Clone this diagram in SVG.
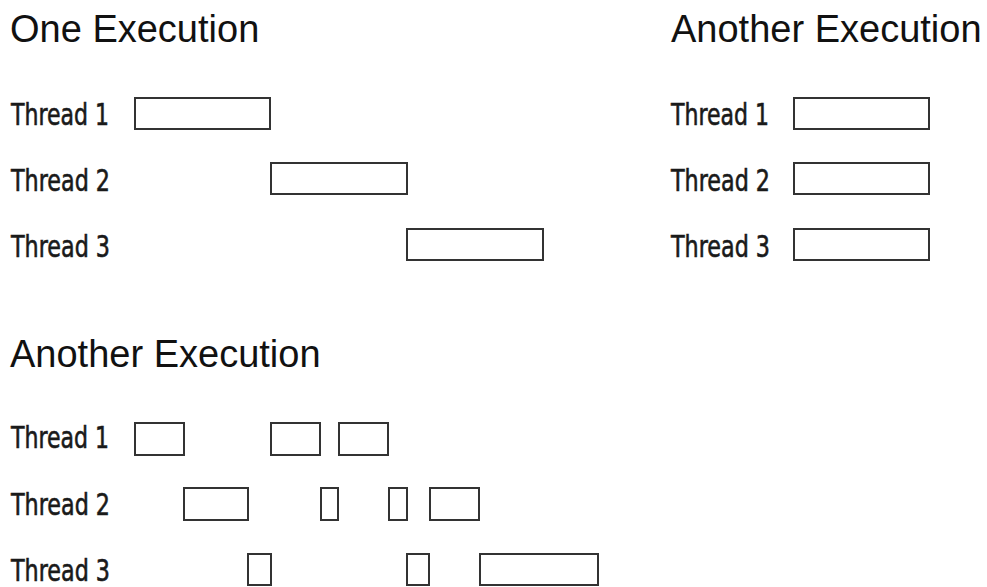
<svg xmlns="http://www.w3.org/2000/svg" width="987" height="587" viewBox="0 0 987 587">
<style>
  .title { font-family: "Liberation Sans", Arial, sans-serif; font-size: 38px; fill: #111; }
  .lbl { font-family: "Liberation Sans Narrow", "DejaVu Sans Condensed", "Liberation Sans", sans-serif; font-size: 30px; fill: #1a1a1a; stroke: #1a1a1a; stroke-width: 0.6; }
  .bar { fill: #fff; stroke: #333; stroke-width: 2; }
</style>
<rect width="987" height="587" fill="#fff"/>

<g id="one-execution">
  <text class="title" x="10" y="42">One Execution</text>
  <g id="oe-t1">
    <text class="lbl" x="11" y="125" textLength="98" lengthAdjust="spacingAndGlyphs">Thread 1</text>
    <rect class="bar" x="135" y="98" width="135" height="31"/>
  </g>
  <g id="oe-t2">
    <text class="lbl" x="11" y="191" textLength="99" lengthAdjust="spacingAndGlyphs">Thread 2</text>
    <rect class="bar" x="271" y="163" width="136" height="31"/>
  </g>
  <g id="oe-t3">
    <text class="lbl" x="11" y="257" textLength="99" lengthAdjust="spacingAndGlyphs">Thread 3</text>
    <rect class="bar" x="407" y="229" width="136" height="31"/>
  </g>
</g>

<g id="another-execution-1">
  <text class="title" x="671" y="42">Another Execution</text>
  <g id="ae1-t1">
    <text class="lbl" x="671" y="125" textLength="98" lengthAdjust="spacingAndGlyphs">Thread 1</text>
    <rect class="bar" x="794" y="98" width="135" height="31"/>
  </g>
  <g id="ae1-t2">
    <text class="lbl" x="671" y="191" textLength="99" lengthAdjust="spacingAndGlyphs">Thread 2</text>
    <rect class="bar" x="794" y="163" width="135" height="31"/>
  </g>
  <g id="ae1-t3">
    <text class="lbl" x="671" y="257" textLength="99" lengthAdjust="spacingAndGlyphs">Thread 3</text>
    <rect class="bar" x="794" y="229" width="135" height="31"/>
  </g>
</g>

<g id="another-execution-2">
  <text class="title" x="10" y="367">Another Execution</text>
  <g id="ae2-t1">
    <text class="lbl" x="11" y="448" textLength="98" lengthAdjust="spacingAndGlyphs">Thread 1</text>
    <rect class="bar" x="135" y="423" width="49" height="32"/>
    <rect class="bar" x="271" y="423" width="49" height="32"/>
    <rect class="bar" x="339" y="423" width="49" height="32"/>
  </g>
  <g id="ae2-t2">
    <text class="lbl" x="11" y="515" textLength="99" lengthAdjust="spacingAndGlyphs">Thread 2</text>
    <rect class="bar" x="184" y="488" width="64" height="32"/>
    <rect class="bar" x="321" y="488" width="17" height="32"/>
    <rect class="bar" x="389" y="488" width="18" height="32"/>
    <rect class="bar" x="430" y="488" width="49" height="32"/>
  </g>
  <g id="ae2-t3">
    <text class="lbl" x="11" y="581" textLength="99" lengthAdjust="spacingAndGlyphs">Thread 3</text>
    <rect class="bar" x="248" y="554" width="23" height="31"/>
    <rect class="bar" x="407" y="554" width="22" height="31"/>
    <rect class="bar" x="480" y="554" width="118" height="31"/>
  </g>
</g>

<g id="connectors"></g>
</svg>
